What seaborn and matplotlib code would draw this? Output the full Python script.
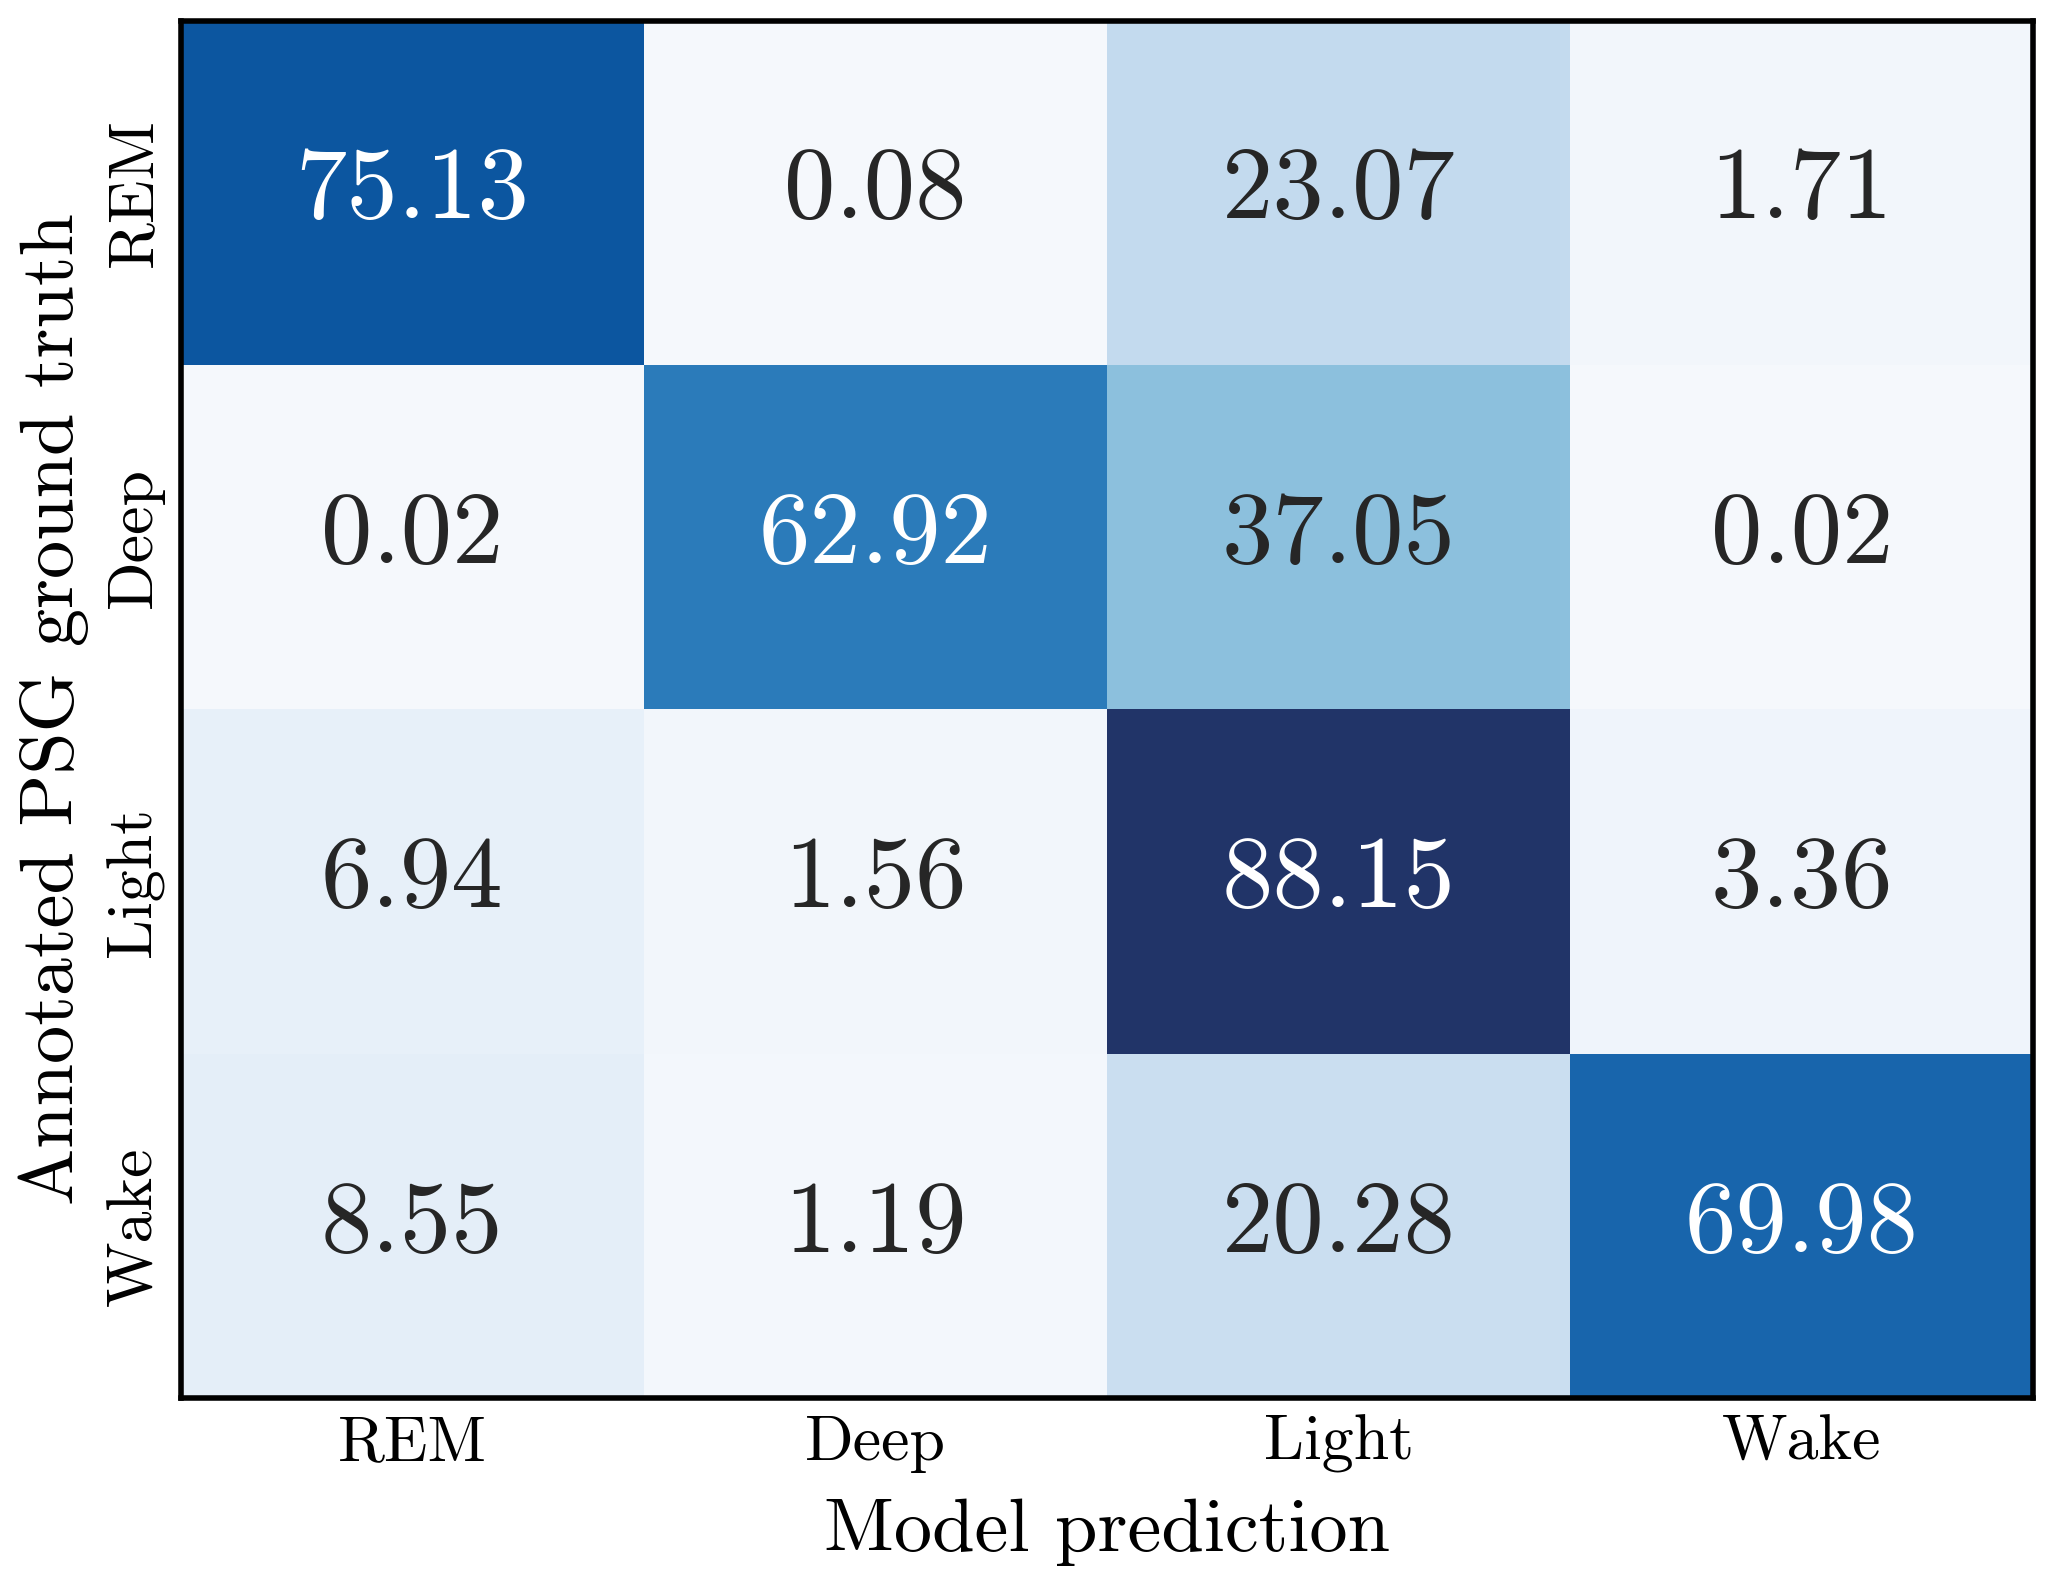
import numpy as np
import pandas as pd
import seaborn as sns
import matplotlib
matplotlib.use("Agg")
import matplotlib.pyplot as plt
from matplotlib.colors import LinearSegmentedColormap

stages = ["REM", "Deep", "Light", "Wake"]
row_rem = [75.13, 0.08, 23.07, 1.71]
row_deep = [0.02, 62.92, 37.05, 0.02]
row_light = [6.94, 1.56, 88.15, 3.36]
row_wake = [8.55, 1.19, 20.28, 69.98]

df = pd.DataFrame([row_rem, row_deep, row_light, row_wake], index=stages, columns=stages)

blues_stops = ["#f5f8fc", "#deebf7", "#c6dbef", "#9ecae1", "#6baed6",
               "#4292c6", "#2171b5", "#08519c", "#213468"]
cmap = LinearSegmentedColormap.from_list("blues_print", blues_stops)

sns.set_theme(style="white")
plt.rcParams["font.family"] = ["cmr10", "DejaVu Serif"]
plt.rcParams["mathtext.fontset"] = "cm"
plt.rcParams["axes.formatter.use_mathtext"] = True

fig = plt.figure(figsize=(20.54, 15.8), dpi=100)
ax = fig.add_axes([0.088, 0.115, 0.902, 0.872])
sns.heatmap(df, ax=ax, cmap=cmap, vmin=0, vmax=df.values.max(), annot=True, fmt=".2f",
            cbar=False, annot_kws={"fontsize": 74})
for s in ax.spines.values():
    s.set_visible(True)
    s.set_color("black")
    s.set_linewidth(4)
ax.tick_params(axis="both", length=0, labelsize=46, colors="black")
ax.tick_params(axis="x", pad=12)
ax.tick_params(axis="y", pad=12)
plt.setp(ax.get_yticklabels(), rotation=90, va="center")
ax.set_xlabel("Model prediction", fontsize=55, labelpad=18, color="black")
ax.set_ylabel("Annotated PSG ground truth", fontsize=55, labelpad=12, color="black")
fig.savefig("out.png", dpi=100)
